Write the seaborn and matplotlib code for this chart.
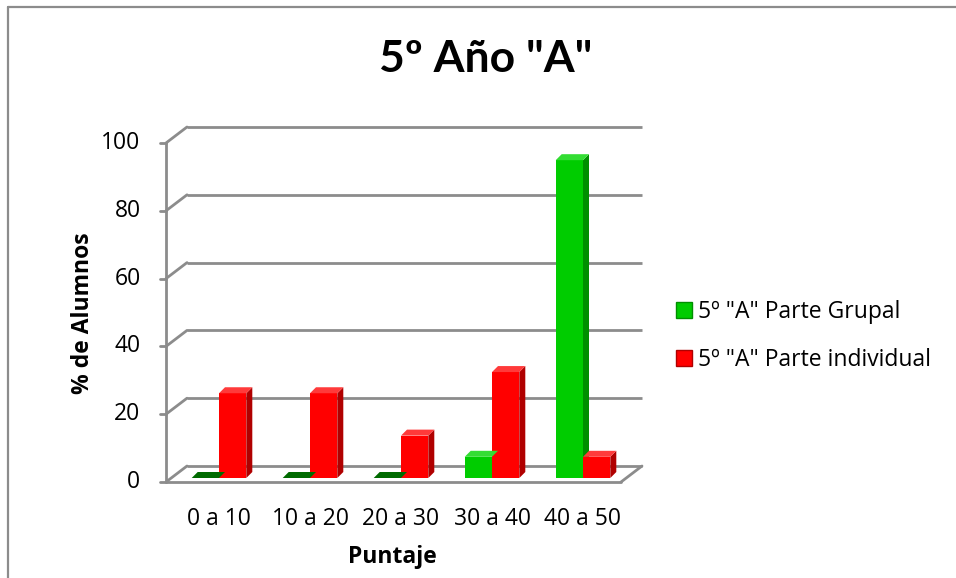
import numpy as np
import pandas as pd
import matplotlib
matplotlib.use("Agg")
import matplotlib.pyplot as plt
import matplotlib.transforms as mtransforms
from matplotlib.patches import Polygon, Rectangle
from matplotlib.lines import Line2D
import seaborn as sns

# ---- data -------------------------------------------------------------
categories = ["0 a 10", "10 a 20", "20 a 30", "30 a 40", "40 a 50"]
grupal = [0.0, 0.0, 0.0, 6.25, 93.75]
individual = [25.0, 25.0, 12.5, 31.25, 6.25]
series_names = ['5º "A" Parte Grupal', '5º "A" Parte individual']
y_ticks = [0, 20, 40, 60, 80, 100]

front_colors = ["#00CC00", "#FF0000"]
side_colors = ["#008F00", "#B00000"]
top_colors = ["#33DD33", "#FF3A3A"]
flat_colors = ["#006A00", "#A00000"]
grid_color = "#8C8C8C"

df = pd.DataFrame({
    "Puntaje": categories * 2,
    "valor": grupal + individual,
    "serie": [series_names[0]] * len(categories) + [series_names[1]] * len(categories),
})

sns.set_theme(style="white")
plt.rcParams["font.family"] = ["Open Sans", "DejaVu Sans"]
plt.rcParams["text.color"] = "black"
plt.rcParams["axes.labelcolor"] = "black"
FS = 16.5

W, H, DPI = 956, 578, 100
fig = plt.figure(figsize=(W / DPI, H / DPI), dpi=DPI)
ax_l, ax_r, ax_b, ax_t = 173.5, 628.5, 100, 439
ax = fig.add_axes([ax_l / W, ax_b / H, (ax_r - ax_l) / W, (ax_t - ax_b) / H])

sns.barplot(data=df, x="Puntaje", y="valor", hue="serie", order=categories,
            hue_order=series_names, palette=front_colors, width=0.6,
            saturation=1, ax=ax, zorder=3, linewidth=0, legend=False)

ax.set_xlim(-0.5, len(categories) - 0.5)
ax.set_ylim(0, 100)
for s in ax.spines.values():
    s.set_visible(False)
ax.set_yticks([])
ax.tick_params(axis="x", length=0, pad=21, labelsize=FS, labelcolor="black")
ax.set_xlabel("Puntaje", fontsize=FS, fontweight="bold", color="black")
ax.xaxis.set_label_coords((392 - ax_l) / (ax_r - ax_l), (33 - ax_b) / (ax_t - ax_b))
ax.set_ylabel("% de Alumnos", fontsize=FS, fontweight="bold", color="black")
ax.yaxis.set_label_coords((95 - ax_l) / (ax_r - ax_l), (265 - ax_b) / (ax_t - ax_b))
ax.patch.set_alpha(0)


def shifted(dx, dy):
    return ax.transData + mtransforms.ScaledTranslation(dx / DPI, dy / DPI, fig.dpi_scale_trans)


front_t = shifted(-7.5, -4)
back_t = shifted(13.5, 12)
x0, x1 = ax.get_xlim()

# back wall gridlines
for v in y_ticks:
    ax.plot([x0, x1], [v, v], color=grid_color, lw=2, transform=back_t,
            clip_on=False, zorder=0, solid_capstyle="butt")

def pt(x, y, dx, dy):
    X, Y = ax.transData.transform((x, y))
    return ax.transData.inverted().transform((X + dx, Y + dy))

for v in y_ticks:
    # connector from the front axis to the back wall
    a = pt(x0, v, -7.5, -4)
    b = pt(x0, v, 13.5, 12)
    ax.plot([a[0], b[0]], [a[1], b[1]], color=grid_color, lw=2, clip_on=False,
            zorder=0, solid_capstyle="round")
    # tick mark
    c = pt(x0, v, -14, -4)
    ax.plot([c[0], a[0]], [c[1], a[1]], color=grid_color, lw=2, clip_on=False, zorder=0)
    # tick label
    ax.text(x0, v, str(v), transform=shifted(-33, -4), ha="right", va="center",
            fontsize=FS, color="black")

# front vertical axis
ax.plot([x0, x0], [0, 100], color=grid_color, lw=2, transform=front_t, clip_on=False, zorder=0)
# floor front edge and right edge
ax.plot([x0, x1], [0, 0], color=grid_color, lw=2, transform=front_t, clip_on=False, zorder=0)
fr = pt(x1, 0, -7.5, -4)
br = pt(x1, 0, 13.5, 12)
ax.plot([fr[0], br[0]], [fr[1], br[1]], color=grid_color, lw=2, clip_on=False, zorder=0)

# depth faces on each column
DX, DY = 6, 6
for ci, cont in enumerate(ax.containers):
    for bar in cont:
        bx, bw, bh = bar.get_x(), bar.get_width(), bar.get_height()
        if bh <= 0:
            poly = [pt(bx, 0, 0, 0), pt(bx + bw, 0, 0, 0), pt(bx + bw, 0, DX, DY), pt(bx, 0, DX, DY)]
            ax.add_patch(Polygon(poly, closed=True, facecolor=flat_colors[ci],
                                 edgecolor="none", zorder=4, clip_on=False))
            continue
        top = [pt(bx, bh, 0, 0), pt(bx + bw, bh, 0, 0), pt(bx + bw, bh, DX, DY), pt(bx, bh, DX, DY)]
        side = [pt(bx + bw, 0, 0, 0), pt(bx + bw, bh, 0, 0), pt(bx + bw, bh, DX, DY), pt(bx + bw, 0, DX, DY)]
        ax.add_patch(Polygon(side, closed=True, facecolor=side_colors[ci],
                             edgecolor="none", zorder=2.5, clip_on=False))
        ax.add_patch(Polygon(top, closed=True, facecolor=top_colors[ci],
                             edgecolor="none", zorder=4, clip_on=False))

# title
fig.text(486 / W, 1 - 59 / H, '5º Año "A"', ha="center", va="center",
         fontsize=32, fontweight="bold", color="black", family=["Lato", "DejaVu Sans"])

# legend
handles = [Rectangle((0, 0), 1, 1, facecolor=front_colors[i], edgecolor=side_colors[i], lw=1)
           for i in range(2)]
fig.legend(handles, series_names, loc="center left",
           bbox_to_anchor=(676 / W, 1 - 336 / H), frameon=False, fontsize=FS,
           handlelength=0.68, handleheight=0.68, handletextpad=0.3, labelspacing=1.05,
           borderpad=0, borderaxespad=0, labelcolor="black")

# outer frame (top and left edges)
fig.add_artist(Line2D([8 / W, 8 / W], [0, 1 - 7 / H], transform=fig.transFigure,
                      color="#8C8C8C", lw=1.6))
fig.add_artist(Line2D([8 / W, 1], [1 - 7 / H, 1 - 7 / H], transform=fig.transFigure,
                      color="#8C8C8C", lw=1.6))

fig.savefig("out.png", dpi=DPI, facecolor="white")
